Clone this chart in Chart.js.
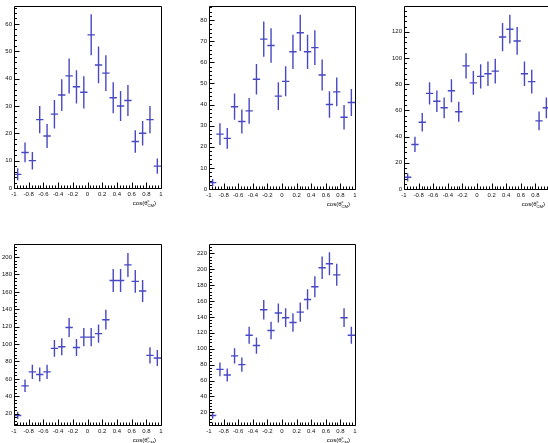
<!DOCTYPE html>
<html><head><meta charset="utf-8">
<script src="https://cdn.jsdelivr.net/npm/chart.js@4.4.1/dist/chart.umd.min.js"></script>
<style>
html,body{margin:0;padding:0;background:#fff;overflow:hidden;width:548px;height:443px;position:relative}
canvas{position:absolute}
</style></head><body>
<canvas id="c1" width="195" height="222" style="left:0px;top:0px"></canvas>
<canvas id="c2" width="195" height="222" style="left:195px;top:0px"></canvas>
<canvas id="c3" width="195" height="222" style="left:390px;top:0px"></canvas>
<canvas id="c4" width="195" height="221" style="left:0px;top:222px"></canvas>
<canvas id="c5" width="195" height="221" style="left:195px;top:222px"></canvas>
<script>
// ---- data ----
const binCenters = [-0.95,-0.85,-0.75,-0.65,-0.55,-0.45,-0.35,-0.25,-0.15,-0.05,0.05,0.15,0.25,0.35,0.45,0.55,0.65,0.75,0.85,0.95];
const binHalfWidth = 0.05;
const xTicks = [-1,-0.8,-0.6,-0.4,-0.2,0,0.2,0.4,0.6,0.8,1];
const xTitle = {main:'cos(\u03B8', sup:'c', sub:'CM', close:')'};

const counts1 = [5,13,10,25,19,27,34,41,37,35,56,45,42,33,30,32,17,20,25,8];
const errors1 = [2.2,3.6,3.2,5.0,4.4,5.2,5.8,6.4,6.1,5.9,7.5,6.7,6.5,5.7,5.5,5.7,4.1,4.5,5.0,2.8];
const yTicks1 = [0,10,20,30,40,50,60];

const counts2 = [3,26,24,39,32,37,52,71,68,44,51,65,74,65,67,54,40,46,34,41];
const errors2 = [1.7,5.1,4.9,6.2,5.7,6.1,7.2,8.4,8.2,6.6,7.1,8.1,8.6,8.1,8.2,7.3,6.3,6.8,5.8,6.4];
const yTicks2 = [0,10,20,30,40,50,60,70,80];

const counts3 = [9,34,51,73,67,62,75,59,94,81,86,88,90,116,122,113,88,82,52,62];
const errors3 = [3.0,5.8,7.1,8.5,8.2,7.9,8.7,7.7,9.7,9.0,9.3,9.4,9.5,10.8,11.0,10.6,9.4,9.1,7.2,7.9];
const yTicks3 = [0,20,40,60,80,100,120];

const counts4 = [18,52,68,65,68,95,97,119,96,108,108,112,128,173,173,191,172,161,87,84];
const errors4 = [4.2,7.2,8.2,8.1,8.2,9.7,9.8,10.9,9.8,10.4,10.4,10.6,11.3,13.2,13.2,13.8,13.1,12.7,9.3,9.2];
const yTicks4 = [20,40,60,80,100,120,140,160,180,200];

const counts5 = [16,74,67,91,80,117,104,149,123,145,139,133,146,162,178,202,207,193,139,117];
const errors5 = [4.0,8.6,8.2,9.5,8.9,10.8,10.2,12.2,11.1,12.0,11.8,11.5,12.1,12.7,13.3,14.2,14.4,13.9,11.8,10.8];
const yTicks5 = [20,40,60,80,100,120,140,160,180,200,220];

// ---- panel settings (range / layout) ----
const panels = [
  {id:'c1', counts:counts1, errors:errors1, yTicks:yTicks1, yMin:0, yMax:66.7, yMinor:2, area:{l:14,r:161,t:5,b:188}},
  {id:'c2', counts:counts2, errors:errors2, yTicks:yTicks2, yMin:0, yMax:86.7, yMinor:2, area:{l:14,r:160,t:6,b:189}},
  {id:'c3', counts:counts3, errors:errors3, yTicks:yTicks3, yMin:0, yMax:139.7, yMinor:4, area:{l:14,r:160,t:6,b:189}},
  {id:'c4', counts:counts4, errors:errors4, yTicks:yTicks4, yMin:7, yMax:215, yMinor:4, area:{l:14,r:161,t:22,b:203}},
  {id:'c5', counts:counts5, errors:errors5, yTicks:yTicks5, yMin:4, yMax:231.8, yMinor:4, area:{l:14,r:160,t:22,b:203}}
];

const MARK = '#4848c4';
const FONT = 'Liberation Sans, Arial, sans-serif';

function crossPoints(vals, errs){
  const pts = [];
  for(let i=0;i<binCenters.length;i++){
    const c = binCenters[i], v = vals[i], e = errs[i];
    pts.push({x:c-binHalfWidth,y:v},{x:c+binHalfWidth,y:v},{x:c,y:null});
    pts.push({x:c,y:v-e},{x:c,y:v+e},{x:c,y:null});
  }
  return pts;
}

const framePlugin = {
  id:'rootFrame',
  afterDraw(chart, args, opts){
    const ctx = chart.ctx, a = chart.chartArea;
    const xs = chart.scales.x, ys = chart.scales.y;
    ctx.save();
    ctx.strokeStyle = '#000';
    ctx.lineWidth = 1;
    const L = Math.round(a.left)+0.5, R = Math.round(a.right)+0.5, T = Math.round(a.top)+0.5, B = Math.round(a.bottom)+0.5;
    ctx.beginPath();
    ctx.moveTo(L,T); ctx.lineTo(R,T); ctx.lineTo(R,B); ctx.lineTo(L,B); ctx.closePath();
    ctx.stroke();
    // x ticks (inside, upward)
    ctx.beginPath();
    const xmin = xs.min, xmax = xs.max;
    for(let k=0;k<=50;k++){
      const v = xmin + k*(xmax-xmin)/50;
      const px = Math.round(xs.getPixelForValue(v))+0.5;
      const len = (k%5===0) ? 6 : 3;
      ctx.moveTo(px,B); ctx.lineTo(px,B-len);
    }
    // y ticks (inside, rightward)
    const step = opts.minor;
    const start = Math.ceil(ys.min/step)*step;
    for(let v=start; v<=ys.max+1e-9; v+=step){
      const py = Math.round(ys.getPixelForValue(v))+0.5;
      const major = opts.majors.some(m=>Math.abs(m-v)<1e-6);
      const len = major ? 5 : 2.5;
      ctx.moveTo(L,py); ctx.lineTo(L+len,py);
    }
    ctx.stroke();
    // axis title
    ctx.fillStyle = '#000';
    ctx.textBaseline = 'alphabetic';
    const fs = 6;
    ctx.font = fs+'px '+FONT;
    const wMain = ctx.measureText(xTitle.main).width;
    ctx.font = (fs*0.7)+'px '+FONT;
    const wSup = ctx.measureText(xTitle.sup).width;
    const wSub = ctx.measureText(xTitle.sub).width;
    ctx.font = fs+'px '+FONT;
    const wClose = ctx.measureText(xTitle.close).width;
    const total = wMain + Math.max(wSup,wSub) + wClose;
    let x0 = a.right - 5 - total;
    const yb = a.bottom + 17;
    ctx.fillText(xTitle.main, x0, yb);
    ctx.font = (fs*0.7)+'px '+FONT;
    ctx.fillText(xTitle.sup, x0+wMain, yb-3);
    ctx.fillText(xTitle.sub, x0+wMain, yb+1.8);
    ctx.font = fs+'px '+FONT;
    ctx.fillText(xTitle.close, x0+wMain+Math.max(wSup,wSub), yb);
    ctx.restore();
  }
};

function fmt(v){ return String(+(+v).toFixed(2)); }

panels.forEach(p=>{
  const cv = document.getElementById(p.id);
  const W = cv.width, H = cv.height, a = p.area;
  new Chart(cv, {
    type:'line',
    data:{datasets:[{
      data: crossPoints(p.counts, p.errors),
      borderColor: MARK, borderWidth: 1.4, pointRadius:0, spanGaps:false, tension:0, fill:false
    }]},
    options:{
      responsive:false, animation:false, devicePixelRatio:1,
      layout:{padding:{left:0, right:W-a.r, top:a.t, bottom:0}},
      plugins:{legend:{display:false}, tooltip:{enabled:false}, rootFrame:{minor:p.yMinor, majors:p.yTicks}},
      scales:{
        x:{type:'linear', min:-1, max:1,
           afterFit(s){ s.height = H - a.b; },
           afterBuildTicks(s){ s.ticks = xTicks.map(v=>({value:v})); },
           grid:{display:false, drawTicks:false}, border:{display:false},
           ticks:{autoSkip:false, maxRotation:0, padding:2.5, color:'#111', font:{family:FONT, size:6}, callback:v=>fmt(v)}},
        y:{type:'linear', min:p.yMin, max:p.yMax,
           afterFit(s){ s.width = a.l; },
           afterBuildTicks(s){ s.ticks = p.yTicks.map(v=>({value:v})); },
           grid:{display:false, drawTicks:false}, border:{display:false},
           ticks:{autoSkip:false, padding:2, color:'#111', font:{family:FONT, size:6}, callback:v=>fmt(v)}}
      }
    },
    plugins:[framePlugin]
  });
});
</script>
</body></html>
